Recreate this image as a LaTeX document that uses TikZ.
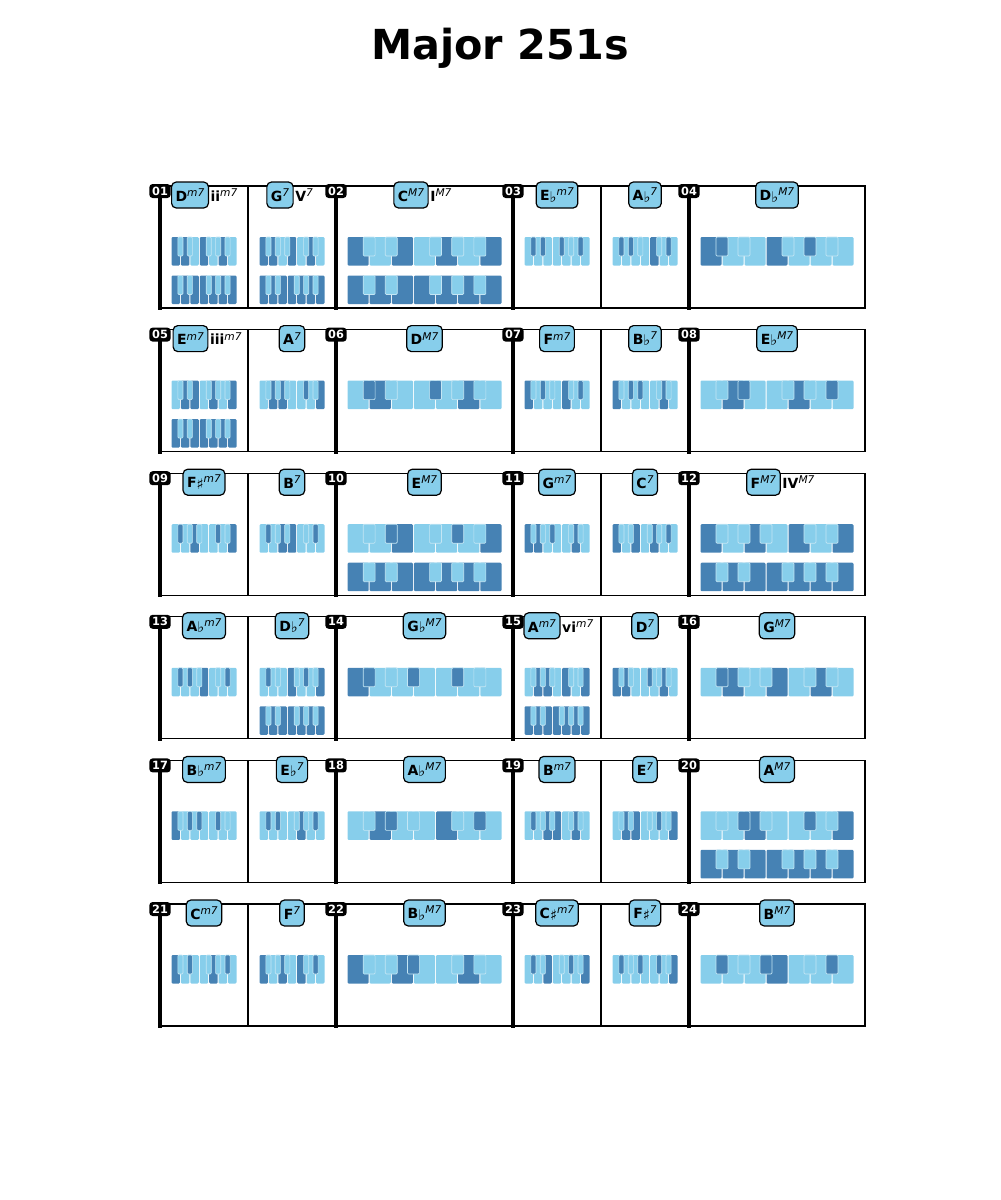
\documentclass[tikz,border=0pt]{standalone}
\usepackage{fontspec}
\setmainfont{DejaVu Sans}
\usetikzlibrary{positioning, calc}
\usepackage{xcolor}
\definecolor{kbD}{HTML}{4682B4}
\definecolor{kbL}{HTML}{87CEEB}
\definecolor{kbedge}{HTML}{C4E6F4}

% chord symbols
\newcommand{\qual}[1]{\raisebox{3.7pt}{\fontsize{8}{8}\selectfont\mdseries\itshape #1}}
\newcommand{\fl}{\raisebox{-1pt}{\fontsize{11}{11}\selectfont\mdseries ♭}}
\newcommand{\shp}{\raisebox{-1pt}{\fontsize{11}{11}\selectfont\mdseries ♯}}

% one octave of keys: x, y, width, whites, blacks (slot/colour)
\newcommand{\kb}[5]{%
  \begin{scope}[shift={(#1,#2)}]
    \pgfmathsetmacro{\kw}{#3/7}
    \foreach \c [count=\i from 0] in {#4}
      \fill[kb\c, rounded corners=0.8pt] (\i*\kw+0.5,0) rectangle (\i*\kw+\kw-0.5,28.5);
    \foreach \b/\c in {#5}
      \filldraw[fill=kb\c, draw=kbedge, line width=0.5pt, rounded corners=0.8pt]
        (\b*\kw-0.27*\kw,0) rectangle (\b*\kw+0.27*\kw,19);
  \end{scope}}
\newcommand{\scalekb}[3]{\kb{#1}{#2}{#3}{D,D,D,D,D,D,D}{1/L,2/L,4/L,5/L,6/L}}

\tikzset{
  rowline/.style={line width=0.9pt},
  barline/.style={line width=3pt},
  badge/.style={fill=black, text=white, rounded corners=2.5pt, font=\fontsize{8.5}{9}\selectfont\bfseries,
    minimum width=16pt, minimum height=10.5pt, inner sep=1pt},
  chord/.style={draw=black, fill=kbL, line width=0.9pt, rounded corners=3.5pt,
    font=\fontsize{10.5}{12}\selectfont\bfseries, minimum height=19.5pt, inner xsep=3pt, inner ysep=0pt},
  roman/.style={font=\fontsize{10.5}{12}\selectfont\bfseries, inner sep=0pt, anchor=base west},
}

\begin{document}
\begin{tikzpicture}[x=0.75pt, y=-0.75pt]
  \useasboundingbox (0,0) rectangle (1000,1200);
  \node[font=\fontsize{31}{36}\selectfont\bfseries, anchor=base] (title) at (500,59) {Major 251s};

  % frames and bar numbers
  \foreach \r/\na/\nb/\nc/\nd in {0/01/02/03/04, 1/05/06/07/08, 2/09/10/11/12,
                                   3/13/14/15/16, 4/17/18/19/20, 5/21/22/23/24} {
    \begin{scope}[shift={(0,186+143.6*\r)}]
      \draw[rowline] (160,0) -- (865,0) -- (865,122) -- (160,122);
      \draw[rowline] (248,0) -- (248,122) (601,0) -- (601,122);
      \foreach \x in {160,336,513,689}
        \draw[barline] (\x,0) -- (\x,124);
      \node[badge] (m\na) at (160,5) {\na};
      \node[badge] (m\nb) at (336,5) {\nb};
      \node[badge] (m\nc) at (513,5) {\nc};
      \node[badge] (m\nd) at (689,5) {\nd};
    \end{scope}
  }

  % row 1
  \begin{scope}[shift={(0,186)}]
    \node[chord] (c01a) at (190,9) {D\qual{m7}};
    \node[roman] (r01a) at ([xshift=1pt]c01a.base east) {ii\qual{m7}};
    \node[chord] (c01b) at (280,9) {G\qual{7}};
    \node[roman] (r01b) at ([xshift=1pt]c01b.base east) {V\qual{7}};
    \node[chord] (c02) at (411,9) {C\qual{M7}};
    \node[roman] (r02) at ([xshift=1pt]c02.base east) {I\qual{M7}};
    \node[chord] (c03a) at (557,9) {E\fl\qual{m7}};
    \node[chord] (c03b) at (645,9) {A\fl\qual{7}};
    \node[chord] (c04) at (777,9) {D\fl\qual{M7}};
    \kb{171}{51}{66}{D,D,L,D,L,D,L}{1/L,2/L,4/L,5/L,6/L}
    \scalekb{171}{89.5}{66}
    \kb{259}{51}{66}{D,D,L,D,L,D,L}{1/L,2/L,3/L,5/L,6/L}
    \scalekb{259}{89.5}{66}
    \kb{347}{51}{155}{D,L,D,L,D,L,D}{1/L,2/L,4/L,5/L,6/L}
    \scalekb{347}{89.5}{155}
    \kb{524}{51}{66}{L,L,L,L,L,L,L}{1/D,2/D,4/D,5/L,6/D}
    \kb{612}{51}{66}{L,L,L,L,D,L,L}{1/D,2/D,3/L,5/L,6/D}
    \kb{700}{51}{154}{D,L,L,D,L,L,L}{1/D,2/L,4/L,5/D,6/L}
  \end{scope}

  % row 2
  \begin{scope}[shift={(0,329.6)}]
    \node[chord] (c05a) at (190.5,9) {E\qual{m7}};
    \node[roman] (r05a) at ([xshift=1pt]c05a.base east) {iii\qual{m7}};
    \node[chord] (c05b) at (292,9) {A\qual{7}};
    \node[chord] (c06) at (424.5,9) {D\qual{M7}};
    \node[chord] (c07a) at (557,9) {F\qual{m7}};
    \node[chord] (c07b) at (645,9) {B\fl\qual{7}};
    \node[chord] (c08) at (777,9) {E\fl\qual{M7}};
    \kb{171}{51}{66}{L,D,D,L,D,L,D}{1/L,2/L,4/L,5/L,6/L}
    \scalekb{171}{89.5}{66}
    \kb{259}{51}{66}{L,D,D,L,L,L,D}{1/L,2/L,3/L,5/D,6/L}
    \kb{347}{51}{155}{L,D,L,L,L,D,L}{1/D,2/L,4/D,5/L,6/L}
    \kb{524}{51}{66}{D,L,L,L,D,L,L}{1/L,2/D,3/L,5/L,6/D}
    \kb{612}{51}{66}{D,L,L,L,L,D,L}{1/L,2/D,3/D,5/L,6/L}
    \kb{700}{51}{154}{L,D,L,L,D,L,L}{1/L,2/D,4/L,5/L,6/D}
  \end{scope}

  % row 3
  \begin{scope}[shift={(0,473.2)}]
    \node[chord] (c09a) at (204,9) {F\shp\qual{m7}};
    \node[chord] (c09b) at (292,9) {B\qual{7}};
    \node[chord] (c10) at (424.5,9) {E\qual{M7}};
    \node[chord] (c11a) at (557,9) {G\qual{m7}};
    \node[chord] (c11b) at (645,9) {C\qual{7}};
    \node[chord] (c12) at (763.5,9) {F\qual{M7}};
    \node[roman] (r12) at ([xshift=1pt]c12.base east) {IV\qual{M7}};
    \kb{171}{51}{66}{L,L,D,L,L,L,D}{1/D,2/L,3/L,5/D,6/L}
    \kb{259}{51}{66}{L,L,D,D,L,L,L}{1/D,2/L,3/L,5/L,6/D}
    \kb{347}{51}{155}{L,L,D,L,L,L,D}{1/L,2/D,4/L,5/D,6/L}
    \scalekb{347}{89.5}{155}
    \kb{524}{51}{66}{D,D,L,L,L,D,L}{1/L,2/L,3/D,5/L,6/L}
    \kb{612}{51}{66}{D,L,D,L,D,L,L}{1/L,2/L,4/L,5/L,6/D}
    \kb{700}{51}{154}{D,L,D,L,D,L,D}{1/L,2/L,3/L,5/L,6/L}
    \scalekb{700}{89.5}{154}
  \end{scope}

  % row 4
  \begin{scope}[shift={(0,616.8)}]
    \node[chord] (c13a) at (204,9) {A\fl\qual{m7}};
    \node[chord] (c13b) at (292,9) {D\fl\qual{7}};
    \node[chord] (c14) at (424.5,9) {G\fl\qual{M7}};
    \node[chord] (c15a) at (542,9) {A\qual{m7}};
    \node[roman] (r15a) at ([xshift=1pt]c15a.base east) {vi\qual{m7}};
    \node[chord] (c15b) at (645,9) {D\qual{7}};
    \node[chord] (c16) at (777,9) {G\qual{M7}};
    \kb{171}{51}{66}{L,L,L,D,L,L,L}{1/D,2/D,3/L,5/L,6/D}
    \kb{259}{51}{66}{L,L,L,D,L,L,D}{1/D,2/L,4/L,5/D,6/L}
    \scalekb{259}{89.5}{66}
    \kb{347}{51}{155}{D,L,L,L,L,L,L}{1/D,2/L,3/D,5/D,6/L}
    \kb{524}{51}{66}{L,D,D,L,D,L,D}{1/L,2/L,3/L,5/L,6/L}
    \scalekb{524}{89.5}{66}
    \kb{612}{51}{66}{D,D,L,L,L,D,L}{1/L,2/L,4/D,5/L,6/L}
    \kb{700}{51}{154}{L,D,L,D,L,D,L}{1/D,2/L,3/L,5/L,6/L}
  \end{scope}

  % row 5
  \begin{scope}[shift={(0,760.4)}]
    \node[chord] (c17a) at (204,9) {B\fl\qual{m7}};
    \node[chord] (c17b) at (292,9) {E\fl\qual{7}};
    \node[chord] (c18) at (424.5,9) {A\fl\qual{M7}};
    \node[chord] (c19a) at (557,9) {B\qual{m7}};
    \node[chord] (c19b) at (645,9) {E\qual{7}};
    \node[chord] (c20) at (777,9) {A\qual{M7}};
    \kb{171}{51}{66}{D,L,L,L,L,L,L}{1/L,2/D,3/D,5/D,6/L}
    \kb{259}{51}{66}{L,L,L,L,D,L,L}{1/D,2/D,4/L,5/L,6/D}
    \kb{347}{51}{155}{L,D,L,L,D,L,L}{1/L,2/D,3/L,5/L,6/D}
    \kb{524}{51}{66}{L,L,D,D,L,D,L}{1/D,2/L,3/L,5/L,6/L}
    \kb{612}{51}{66}{L,D,D,L,L,L,D}{1/L,2/L,4/L,5/D,6/L}
    \kb{700}{51}{154}{L,L,D,L,L,L,D}{1/L,2/D,3/L,5/D,6/L}
    \scalekb{700}{89.5}{154}
  \end{scope}

  % row 6
  \begin{scope}[shift={(0,904)}]
    \node[chord] (c21a) at (204,9) {C\qual{m7}};
    \node[chord] (c21b) at (292,9) {F\qual{7}};
    \node[chord] (c22) at (424.5,9) {B\fl\qual{M7}};
    \node[chord] (c23a) at (557,9) {C\shp\qual{m7}};
    \node[chord] (c23b) at (645,9) {F\shp\qual{7}};
    \node[chord] (c24) at (777,9) {B\qual{M7}};
    \kb{171}{51}{66}{D,L,L,L,D,L,L}{1/L,2/D,4/L,5/L,6/D}
    \kb{259}{51}{66}{D,L,D,L,D,L,L}{1/L,2/L,3/L,5/L,6/D}
    \kb{347}{51}{155}{D,L,D,L,L,D,L}{1/L,2/L,3/D,5/L,6/L}
    \kb{524}{51}{66}{L,L,D,L,L,L,D}{1/D,2/L,4/L,5/D,6/L}
    \kb{612}{51}{66}{L,L,L,L,L,L,D}{1/D,2/L,3/D,5/D,6/L}
    \kb{700}{51}{154}{L,L,L,D,L,L,L}{1/D,2/L,3/D,5/L,6/D}
  \end{scope}
\end{tikzpicture}
\end{document}
